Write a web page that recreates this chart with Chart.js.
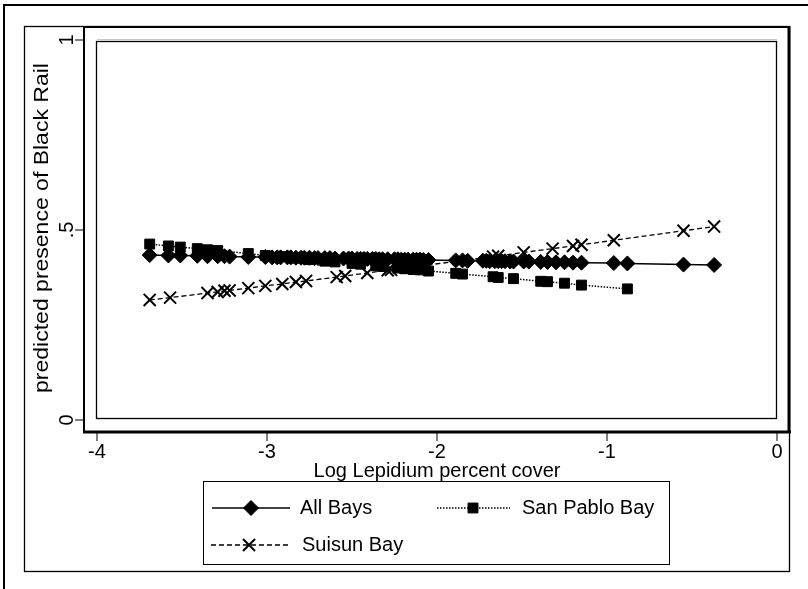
<!DOCTYPE html>
<html>
<head>
<meta charset="utf-8">
<script src="https://cdn.jsdelivr.net/npm/chart.js@4/dist/chart.umd.min.js"></script>
<style>
  html, body { margin: 0; padding: 0; background: #fff; }
  #wrap { width: 808px; height: 589px; position: relative; }
</style>
</head>
<body>
<div id="wrap"><canvas id="c" width="808" height="589"></canvas></div>
<script>
// Axis ticks and labels
const xTicks = [-4, -3, -2, -1, 0];
const xTickLabels = ['-4', '-3', '-2', '-1', '0'];
const yTicks = [0, 0.5, 1];
const yTickLabels = ['0', '.5', '1'];
const xTitle = 'Log Lepidium percent cover';
const yTitle = 'predicted presence of Black Rail';
const seriesNames = ['All Bays', 'San Pablo Bay', 'Suisun Bay'];

// All Bays: log cover and predicted presence
const allBaysX = [-3.69, -3.58, -3.51, -3.41, -3.35, -3.29, -3.25, -3.22, -3.11, -3.01,
  -2.97, -2.94, -2.92, -2.88, -2.86, -2.83, -2.80, -2.78, -2.75, -2.72,
  -2.70, -2.66, -2.63, -2.60, -2.55, -2.52, -2.50, -2.47, -2.45, -2.43,
  -2.41, -2.38, -2.36, -2.34, -2.32, -2.29, -2.25, -2.23, -2.21, -2.19,
  -2.17, -2.14, -2.12, -2.10, -2.08, -2.05, -1.89, -1.85, -1.82, -1.73,
  -1.71, -1.69, -1.66, -1.64, -1.62, -1.60, -1.57, -1.55, -1.49, -1.46,
  -1.39, -1.35, -1.30, -1.25, -1.20, -1.15, -0.96, -0.88, -0.55, -0.37];
const allBaysY = [0.434, 0.433, 0.433, 0.432, 0.431, 0.431, 0.431, 0.430, 0.429, 0.429,
  0.428, 0.428, 0.428, 0.428, 0.428, 0.427, 0.427, 0.427, 0.427, 0.426,
  0.426, 0.426, 0.426, 0.425, 0.425, 0.425, 0.425, 0.424, 0.424, 0.424,
  0.424, 0.424, 0.424, 0.423, 0.423, 0.423, 0.423, 0.423, 0.422, 0.422,
  0.422, 0.422, 0.422, 0.422, 0.421, 0.421, 0.420, 0.420, 0.419, 0.419,
  0.419, 0.418, 0.418, 0.418, 0.418, 0.418, 0.417, 0.417, 0.417, 0.417,
  0.416, 0.416, 0.415, 0.415, 0.414, 0.414, 0.413, 0.412, 0.409, 0.408];

// San Pablo Bay
const sanPabloX = [-3.69, -3.58, -3.51, -3.41, -3.35, -3.29, -3.11, -3.01, -2.92, -2.83,
  -2.75, -2.66, -2.60, -2.50, -2.45, -2.36, -2.32, -2.23, -2.19, -2.14,
  -2.10, -2.05, -1.89, -1.85, -1.67, -1.64, -1.55, -1.39, -1.35, -1.25,
  -1.15, -0.88];
const sanPabloY = [0.463, 0.458, 0.455, 0.451, 0.448, 0.446, 0.438, 0.433, 0.430, 0.426,
  0.422, 0.418, 0.416, 0.412, 0.410, 0.406, 0.404, 0.400, 0.398, 0.396,
  0.395, 0.392, 0.386, 0.384, 0.377, 0.375, 0.372, 0.365, 0.364, 0.360,
  0.355, 0.345];

// Suisun Bay
const suisunX = [-3.69, -3.57, -3.35, -3.29, -3.25, -3.22, -3.11, -3.01, -2.91, -2.83,
  -2.77, -2.59, -2.54, -2.41, -2.29, -2.27, -2.16, -2.07, -1.67, -1.64,
  -1.49, -1.32, -1.20, -1.15, -0.96, -0.55, -0.37];
const suisunY = [0.316, 0.322, 0.334, 0.337, 0.340, 0.341, 0.347, 0.353, 0.358, 0.363,
  0.366, 0.376, 0.379, 0.387, 0.394, 0.395, 0.401, 0.407, 0.430, 0.432,
  0.441, 0.451, 0.458, 0.461, 0.473, 0.498, 0.509];

const pts = (xs, ys) => xs.map((x, i) => ({ x: x, y: ys[i] }));

const FAMILY = '"Liberation Sans", Arial, sans-serif';
const FONT = '20px ' + FAMILY;
const TITLE_FONT = '23px ' + FAMILY;

function line(ctx, x1, y1, x2, y2, w) {
  ctx.beginPath();
  ctx.lineWidth = w;
  ctx.moveTo(x1, y1);
  ctx.lineTo(x2, y2);
  ctx.stroke();
}

const seriesStyle = [
  { dash: [], marker: 'rectRot', radius: 7.5, width: 1.5, pbw: 1 },
  { dash: [1.5, 1.5], marker: 'rect', radius: 7, width: 1.5, pbw: 1 },
  { dash: [5, 3], marker: 'crossRot', radius: 8.5, width: 1.3, pbw: 2 }
];

const frame = {
  id: 'frame',
  beforeDraw(chart) {
    const ctx = chart.ctx;
    ctx.save();
    ctx.fillStyle = '#fff';
    ctx.fillRect(0, 0, chart.width, chart.height);
    ctx.restore();
  },
  afterDraw(chart) {
    const ctx = chart.ctx;
    const xs = chart.scales.x, ys = chart.scales.y;
    const a = chart.chartArea;
    ctx.save();
    ctx.strokeStyle = '#000';
    ctx.fillStyle = '#000';

    // outer page edge
    line(ctx, 3, 5, 808, 5, 2);
    line(ctx, 4, 4, 4, 589, 2);

    // graph region box
    ctx.lineWidth = 1.3;
    ctx.strokeRect(24.5, 26.5, 765, 545);

    // plot region box
    line(ctx, 84, 27, 790, 27, 2);
    line(ctx, 84, 26, 84, 433, 2);
    line(ctx, 83, 432, 791, 432, 3);
    line(ctx, 789, 26, 789, 433, 3);

    // light gridline at the top value
    ctx.strokeStyle = '#c8c8c8';
    const yTop = ys.getPixelForValue(1);
    line(ctx, a.left, yTop - 0.5, a.right, yTop - 0.5, 1);

    // inner plot border
    ctx.strokeStyle = '#000';
    ctx.lineWidth = 1.3;
    ctx.strokeRect(a.left - 0.5, yTop + 1.5, a.right - a.left, a.bottom - yTop - 3);

    // y ticks and labels
    ctx.font = FONT;
    yTicks.forEach((v, i) => {
      const py = ys.getPixelForValue(v);
      line(ctx, 75, py, 84, py, 1);
      ctx.save();
      ctx.translate(67, py);
      ctx.rotate(-Math.PI / 2);
      ctx.textAlign = 'center';
      ctx.textBaseline = 'middle';
      ctx.fillText(yTickLabels[i], 0, 0);
      ctx.restore();
    });
    // y title
    ctx.save();
    ctx.font = TITLE_FONT;
    ctx.translate(42, (a.top + a.bottom) / 2 - 2);
    ctx.rotate(-Math.PI / 2);
    ctx.scale(1, 0.88);
    ctx.textAlign = 'center';
    ctx.textBaseline = 'middle';
    ctx.fillText(yTitle, 0, 0);
    ctx.restore();

    // x ticks and labels
    xTicks.forEach((v, i) => {
      const px = xs.getPixelForValue(v);
      line(ctx, px, 433, px, 441, 1);
      ctx.textAlign = 'center';
      ctx.textBaseline = 'middle';
      ctx.fillText(xTickLabels[i], px, 452);
    });
    ctx.fillText(xTitle, (a.left + a.right) / 2, 471);

    // legend
    ctx.lineWidth = 1;
    ctx.strokeRect(203.5, 481.5, 466, 83);
    const entries = [
      { i: 0, x0: 212, x1: 290, mx: 251, y: 508, tx: 300 },
      { i: 1, x0: 437, x1: 510, mx: 473, y: 508, tx: 522 },
      { i: 2, x0: 211, x1: 288, mx: 249, y: 545, tx: 302 }
    ];
    entries.forEach(e => {
      const s = seriesStyle[e.i];
      ctx.save();
      ctx.setLineDash(s.dash);
      line(ctx, e.x0, e.y, e.x1, e.y, s.width);
      ctx.restore();
      ctx.save();
      ctx.fillStyle = '#000';
      ctx.strokeStyle = '#000';
      ctx.lineWidth = s.pbw;
      Chart.helpers.drawPoint(ctx, { pointStyle: s.marker, radius: s.radius, borderWidth: s.pbw, rotation: 0 }, e.mx, e.y);
      ctx.restore();
      ctx.textAlign = 'left';
      ctx.textBaseline = 'middle';
      ctx.fillText(seriesNames[e.i], e.tx, e.y);
    });
    ctx.restore();
  }
};

const datasets = [
  pts(allBaysX, allBaysY),
  pts(sanPabloX, sanPabloY),
  pts(suisunX, suisunY)
].map((d, i) => ({
  label: seriesNames[i],
  data: d,
  borderColor: '#000',
  backgroundColor: '#000',
  borderWidth: seriesStyle[i].width,
  borderDash: seriesStyle[i].dash,
  pointStyle: seriesStyle[i].marker,
  pointRadius: seriesStyle[i].radius,
  pointBorderWidth: seriesStyle[i].pbw,
  pointBackgroundColor: '#000',
  pointBorderColor: '#000',
  tension: 0,
  fill: false,
  clip: false
}));

new Chart(document.getElementById('c'), {
  type: 'line',
  data: { datasets: datasets },
  options: {
    responsive: false,
    animation: false,
    devicePixelRatio: 1,
    layout: { padding: { left: 97, right: 31, top: 40, bottom: 169 } },
    plugins: { legend: { display: false }, tooltip: { enabled: false } },
    scales: {
      x: { type: 'linear', min: -4, max: 0, display: false },
      y: { type: 'linear', min: 0, max: 1, display: false }
    }
  },
  plugins: [frame]
});
</script>
</body>
</html>
